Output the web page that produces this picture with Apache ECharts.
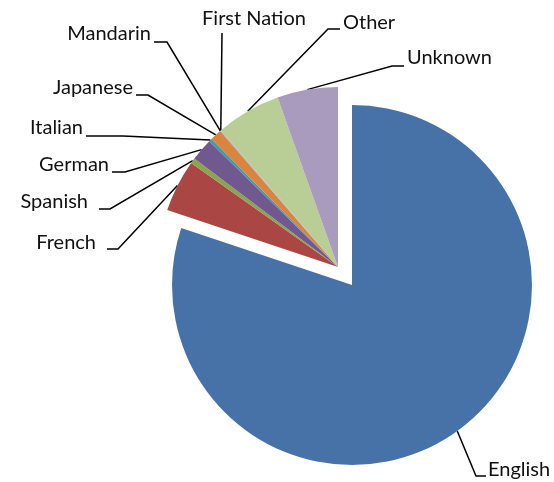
<!DOCTYPE html>
<html>
<head>
<meta charset="utf-8">
<script src="https://cdn.jsdelivr.net/npm/echarts@6/dist/echarts.min.js"></script>
<style>
  html, body { margin: 0; padding: 0; background: #fff; }
  #chart { width: 554px; height: 482px; }
</style>
</head>
<body>
<div id="chart"></div>
<script>
// languages spoken, share in percent
var languages = ['English', 'French', 'Spanish', 'German', 'Italian', 'Japanese', 'Mandarin', 'First Nation', 'Other', 'Unknown'];
var shares = [80.0, 4.69, 0.47, 2.03, 0.28, 1.03, 0.06, 0.04, 5.81, 5.44];
var sliceColors = ['#4672A8', '#AA4643', '#89A54E', '#71588F', '#4198AF', '#DB843D', '#93A9CF', '#D19392', '#B9CD96', '#A99BBD'];

// label placement: text anchor, leader bend and leader end
var labelSpots = {
  'English':      { x: 488, y: 470, align: 'left',   bend: [476, 476], end: [486, 476] },
  'French':       { x: 96,  y: 243, align: 'right',  bend: [118, 249], end: [107, 249] },
  'Spanish':      { x: 88,  y: 202, align: 'right',  bend: [110, 209], end: [99, 209] },
  'German':       { x: 109, y: 165, align: 'right',  bend: [125, 172], end: [112, 172] },
  'Italian':      { x: 83,  y: 128, align: 'right',  bend: [123, 136], end: [86, 136] },
  'Japanese':     { x: 133, y: 88,  align: 'right',  bend: [148, 95],  end: [136, 95] },
  'Mandarin':     { x: 151, y: 34,  align: 'right',  bend: [167, 42],  end: [154, 42] },
  'First Nation': { x: 254, y: 19,  align: 'center', bend: [222, 33],  end: [222, 33] },
  'Other':        { x: 343, y: 23,  align: 'left',   bend: [328, 29],  end: [340, 29] },
  'Unknown':      { x: 407, y: 58,  align: 'left',   bend: [392, 66],  end: [404, 66] }
};

var fontFamily = 'Lato, "Open Sans", sans-serif';

// series 0 draws only the pulled-out English slice, series 1 the rest
function buildData(showEnglish) {
  return languages.map(function (name, i) {
    var visible = (name === 'English') === showEnglish;
    return {
      name: name,
      value: shares[i],
      itemStyle: { color: visible ? sliceColors[i] : 'rgba(0,0,0,0)' },
      label: { show: visible },
      labelLine: { show: visible }
    };
  });
}

function layoutLabel(params) {
  var spot = labelSpots[languages[params.dataIndex]];
  if (!spot || !params.labelLinePoints) return {};
  return {
    x: spot.x,
    y: spot.y,
    align: spot.align,
    verticalAlign: 'middle',
    labelLinePoints: [params.labelLinePoints[0], spot.bend, spot.end]
  };
}

function pieSeries(center, showEnglish) {
  return {
    type: 'pie',
    center: center,
    radius: 180,
    startAngle: 90,
    clockwise: true,
    avoidLabelOverlap: false,
    silent: true,
    animation: false,
    data: buildData(showEnglish),
    label: {
      show: true,
      position: 'outside',
      color: '#111',
      fontFamily: fontFamily,
      fontSize: 20
    },
    labelLine: {
      show: true,
      length: 10,
      length2: 10,
      lineStyle: { color: '#000', width: 1.5 }
    },
    labelLayout: layoutLabel,
    itemStyle: { borderWidth: 0 }
  };
}

var myChart = echarts.init(document.getElementById('chart'));
myChart.setOption({
  backgroundColor: '#fff',
  series: [
    pieSeries([352, 285], true),
    pieSeries([338, 267], false)
  ]
});
</script>
</body>
</html>
